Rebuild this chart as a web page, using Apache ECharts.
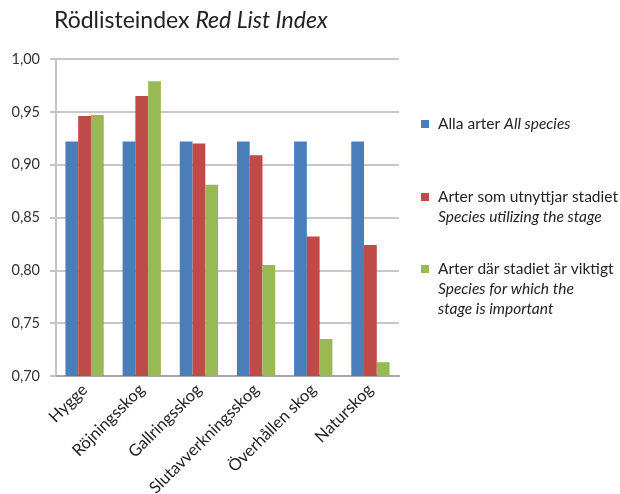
<!DOCTYPE html>
<html>
<head>
<meta charset="utf-8">
<script src="https://cdn.jsdelivr.net/npm/echarts@6/dist/echarts.min.js"></script>
<style>
  html, body { margin: 0; padding: 0; background: #fff; }
  #chart { width: 620px; height: 494px; }
</style>
</head>
<body>
<div id="chart"></div>
<script>
var categories = ['Hygge', 'Röjningsskog', 'Gallringsskog', 'Slutavverkningsskog', 'Överhållen skog', 'Naturskog']
var allSpecies = [0.922, 0.922, 0.922, 0.922, 0.922, 0.922]
var utilizing = [0.946, 0.965, 0.920, 0.909, 0.832, 0.824]
var important = [0.947, 0.979, 0.881, 0.805, 0.735, 0.713]

var seriesNames = ['Alla arter', 'Arter som utnyttjar stadiet', 'Arter där stadiet är viktigt']
var colors = ['#4a7ebb', '#be4b48', '#98b954']
var legendText = [
  '{sq0|}{gap|}{n|Alla arter }{i|All species}',
  '{sq1|}{gap|}{n|Arter som utnyttjar stadiet}\n{ind|}{i|Species utilizing the stage}',
  '{sq2|}{gap|}{n|Arter där stadiet är viktigt}\n{ind|}{i|Species for which the}\n{ind|}{i|stage is important}'
]
var legendTops = [116, 189, 261]

var font = 'Lato, "Open Sans", sans-serif'

var rich = {
  n: { fontFamily: font, fontSize: 15.5, color: '#222', lineHeight: 20 },
  i: { fontFamily: font, fontSize: 15.5, color: '#222', fontStyle: 'italic', lineHeight: 20 },
  gap: { width: 9, height: 8 },
  ind: { width: 17, height: 8 }
}
colors.forEach(function (c, k) {
  rich['sq' + k] = { width: 8, height: 8, backgroundColor: c }
})

var chart = echarts.init(document.getElementById('chart'))
var option = {
  animation: false,
  title: {
    text: '{a|Rödlisteindex }{b|Red List Index}',
    left: 54,
    top: 9,
    padding: 0,
    textStyle: {
      rich: {
        a: { fontFamily: font, fontSize: 23, fontWeight: 'normal', color: '#222' },
        b: { fontFamily: font, fontSize: 23, fontWeight: 'normal', color: '#222', fontStyle: 'italic' }
      }
    }
  },
  legend: seriesNames.map(function (name, k) {
    return {
      data: [name],
      left: 416,
      top: legendTops[k],
      padding: 0,
      orient: 'vertical',
      itemWidth: 0,
      itemHeight: 0,
      icon: 'rect',
      selectedMode: false,
      formatter: function () { return legendText[k] },
      textStyle: { rich: rich, padding: 0 }
    }
  }),
  grid: { left: 56, right: 221, top: 59, bottom: 118, containLabel: false, outerBoundsMode: 'none' },
  xAxis: {
    type: 'category',
    data: categories,
    axisLine: { lineStyle: { color: '#a6a6a6', width: 2 } },
    axisTick: { show: false },
    axisLabel: {
      rotate: 45,
      interval: 0,
      margin: 11,
      fontFamily: font,
      fontSize: 16.5,
      color: '#222'
    }
  },
  yAxis: {
    type: 'value',
    min: 0.70,
    max: 1.00,
    interval: 0.05,
    axisLine: { show: true, lineStyle: { color: '#c4c4c4', width: 2 } },
    axisTick: { show: true, length: 6, lineStyle: { color: '#c4c4c4', width: 2 } },
    splitLine: { lineStyle: { color: '#c8c8c8', width: 2 } },
    axisLabel: {
      margin: 16,
      fontFamily: font,
      fontSize: 14.5,
      color: '#333',
      formatter: function (v) { return v.toFixed(2).replace('.', ',') }
    }
  },
  series: [allSpecies, utilizing, important].map(function (d, k) {
    return {
      name: seriesNames[k],
      type: 'bar',
      data: d,
      barGap: '0%',
      barCategoryGap: '33%',
      itemStyle: { color: colors[k] }
    }
  })
}
chart.setOption(option)
</script>
</body>
</html>
